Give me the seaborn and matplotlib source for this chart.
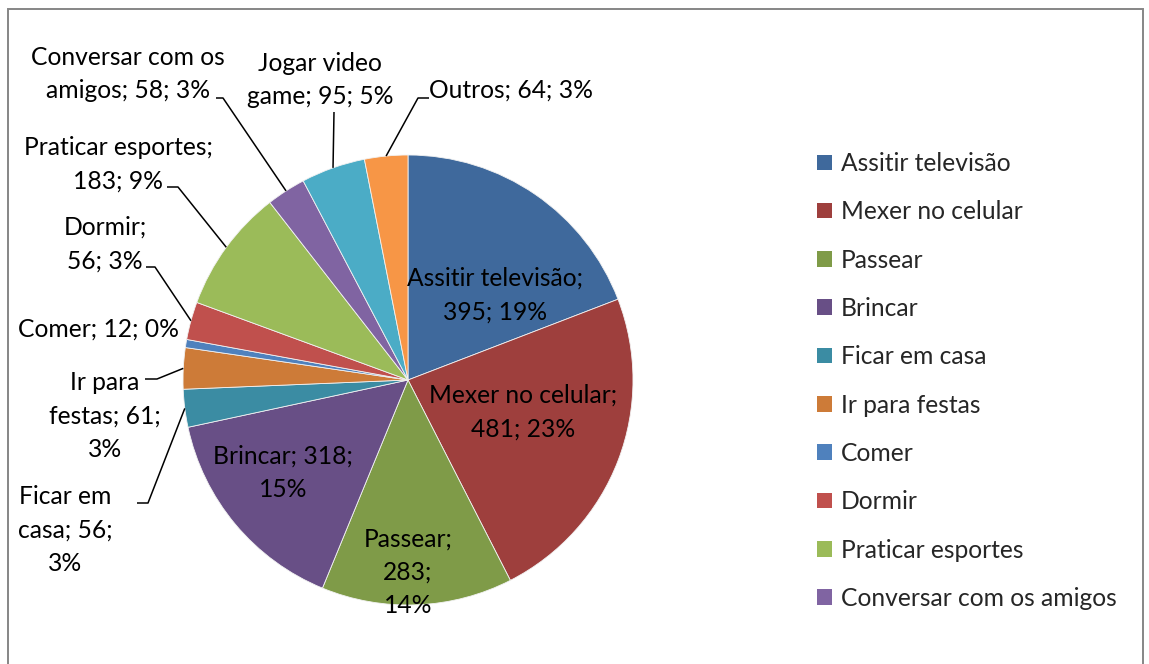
import numpy as np
import matplotlib
matplotlib.use("Agg")
import matplotlib.pyplot as plt
from matplotlib.patches import Rectangle, Patch
import seaborn as sns

# ---- data -------------------------------------------------------------
categories = [
    "Assitir televisão", "Mexer no celular", "Passear", "Brincar",
    "Ficar em casa", "Ir para festas", "Comer", "Dormir",
    "Praticar esportes", "Conversar com os amigos", "Jogar video game", "Outros",
]
counts = [395, 481, 283, 318, 56, 61, 12, 56, 183, 58, 95, 64]
percents = [19, 23, 14, 15, 3, 3, 0, 3, 9, 3, 5, 3]
legend_entries = categories[:10]

colors = [
    "#3F699C", "#9E3F3D", "#7F9B48", "#684F86", "#3B8CA3", "#CD7B38",
    "#4F81BD", "#C0504D", "#9BBB59", "#8064A2", "#4BACC6", "#F79646",
]

# label text templates (line breaks as laid out on the chart)
label_fmt = {
    "Assitir televisão": "{name};\n{v}; {p}%",
    "Mexer no celular": "{name};\n{v}; {p}%",
    "Passear": "{name};\n{v};\n{p}%",
    "Brincar": "{name}; {v};\n{p}%",
    "Ficar em casa": "Ficar em\ncasa; {v};\n{p}%",
    "Ir para festas": "Ir para\nfestas; {v};\n{p}%",
    "Comer": "{name}; {v}; {p}%",
    "Dormir": "{name};\n{v}; {p}%",
    "Praticar esportes": "{name};\n{v}; {p}%",
    "Conversar com os amigos": "Conversar com os\namigos; {v}; {p}%",
    "Jogar video game": "Jogar video\ngame; {v}; {p}%",
    "Outros": "{name}; {v}; {p}%",
}

# ---- layout (pixel coordinates, y measured from the top) --------------
W, H = 1149, 664
CX, CY, R = 408, 380, 225
label_pos = {
    "Assitir televisão": (495, 295),
    "Mexer no celular": (523, 412),
    "Passear": (408, 572),
    "Brincar": (283, 473),
    "Ficar em casa": (65, 530),
    "Ir para festas": (105, 416),
    "Comer": (98, 329),
    "Dormir": (105, 244),
    "Praticar esportes": (118, 164),
    "Conversar com os amigos": (128, 74),
    "Jogar video game": (320, 80),
    "Outros": (511, 90),
}
# leader lines: start point next to the label, then an elbow, then the slice edge
leaders = {
    "Ficar em casa": [(137, 503), (148, 503)],
    "Ir para festas": [(145, 379), (157, 379)],
    "Dormir": [(146, 267), (155, 267)],
    "Praticar esportes": [(167, 187), (178, 187)],
    "Conversar com os amigos": [(216, 98), (223, 98)],
    "Jogar video game": [(334, 112)],
    "Outros": [(429, 98), (418, 98)],
}

sns.set_theme(style="white")
plt.rcParams["font.family"] = ["Lato", "DejaVu Sans"]
FS = 17.7

def Y(y):
    return H - y

fig = plt.figure(figsize=(W / 100, H / 100), dpi=100)
ax = fig.add_axes([0, 0, 1, 1])

wedges, _ = ax.pie(
    counts, colors=colors, startangle=90, counterclock=False,
    center=(CX, Y(CY)), radius=R, frame=True,
    wedgeprops=dict(edgecolor="#f2f2f2", linewidth=0.6),
)

for name, v, p, w in zip(categories, counts, percents, wedges):
    x, y = label_pos[name]
    txt = label_fmt[name].format(name=name, v=v, p=p)
    ax.text(x, Y(y), txt, ha="center", va="center", fontsize=FS,
            color="black", linespacing=1.54)
    if name in leaders:
        mid = np.deg2rad((w.theta1 + w.theta2) / 2)
        ex, ey = w.center[0] + w.r * np.cos(mid), w.center[1] + w.r * np.sin(mid)
        pts = [(px, Y(py)) for px, py in leaders[name]] + [(ex, ey)]
        xs, ys = zip(*pts)
        ax.plot(xs, ys, color="black", linewidth=1.1, solid_capstyle="butt")

# legend with the first ten categories
handles = [Patch(facecolor=c, edgecolor="none") for c in colors[:10]]
leg = ax.legend(
    handles, legend_entries, loc="upper left",
    bbox_to_anchor=(817 / W, 1 - 152 / H), bbox_transform=fig.transFigure,
    frameon=False, fontsize=FS, handlelength=0.6, handleheight=0.6,
    handletextpad=0.36, labelspacing=1.03, borderpad=0, borderaxespad=0,
)

# outer chart border
fig.patches.append(Rectangle((8 / W, -0.05), (1143 - 8) / W, 1.05 - 9 / H,
                             transform=fig.transFigure, fill=False,
                             edgecolor="#868686", linewidth=1.4))

ax.set_xlim(0, W)
ax.set_ylim(0, H)
ax.set_aspect("equal")
ax.set_axis_off()

fig.savefig("out.png", dpi=100, facecolor="white")
